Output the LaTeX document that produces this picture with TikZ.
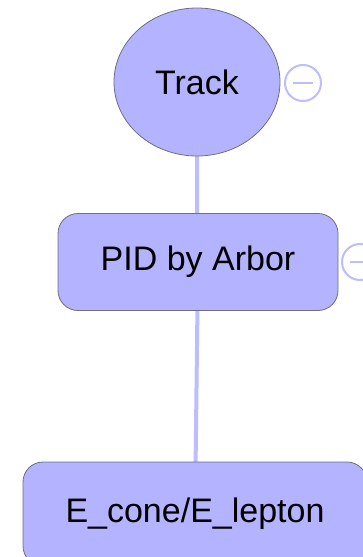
\documentclass[tikz,border=0pt]{standalone}
\usepackage{fontspec}
\setmainfont{Liberation Sans}
\usetikzlibrary{shapes.geometric}
\definecolor{nodefill}{HTML}{B3B3FF}
\definecolor{nodeedge}{HTML}{6E6E80}
\definecolor{linkcol}{HTML}{BDBDFF}
\tikzset{
  topic/.style={draw=nodeedge, fill=nodefill, line width=0.8pt, font=\fontsize{34}{40}\selectfont, text=black},
  roundbox/.style={topic, rectangle, rounded corners=20pt, inner sep=0pt},
  link/.style={draw=linkcol, line width=4pt},
  fold/.style={circle, draw=linkcol, line width=2pt, minimum size=36pt, inner sep=0pt}
}
\begin{document}
\begin{tikzpicture}[x=1pt, y=-1pt]
  \useasboundingbox (0,0) rectangle (363,557);
  \clip (0,0) rectangle (363,557);
  % connectors behind the nodes
  \coordinate (c1) at (197,82);
  \coordinate (c2) at (198,262);
  \coordinate (c3) at (195,514);
  \draw[link] (c1) -- (197,240) -- (c2);
  \draw[link] (c2) -- (c3);
  % nodes
  \node[topic, ellipse, minimum width=166pt, minimum height=148pt, inner sep=0pt] (track) at (c1) {Track};
  \node[roundbox, minimum width=280pt, minimum height=97pt] (pid) at (c2) {PID by Arbor};
  \node[roundbox, minimum width=344pt, minimum height=104pt] (econe) at (c3) {E\_cone/E\_lepton};
  % collapse markers
  \node[fold] (m1) at (303,83) {};
  \draw[linkcol, line width=2pt] ([xshift=-10pt]m1.center) -- ([xshift=10pt]m1.center);
  \node[fold] (m2) at (360,262) {};
  \draw[linkcol, line width=2pt] ([xshift=-10pt]m2.center) -- ([xshift=10pt]m2.center);
\end{tikzpicture}
\end{document}
